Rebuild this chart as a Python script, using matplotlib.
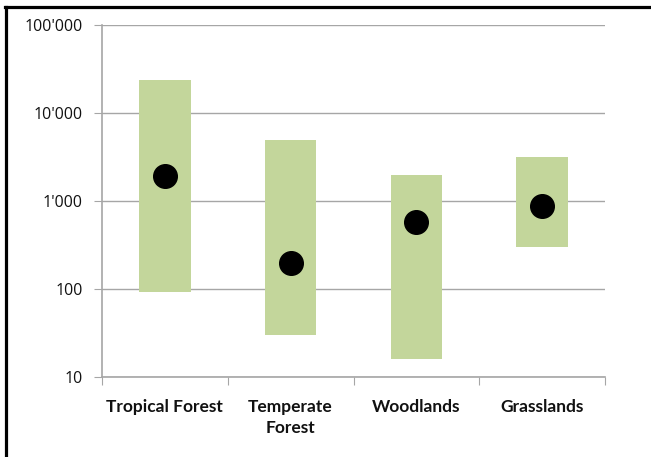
import matplotlib
matplotlib.use("Agg")
import matplotlib.pyplot as plt
from matplotlib.lines import Line2D
from matplotlib.ticker import FixedLocator, FuncFormatter, NullLocator

plt.rcParams['font.family'] = ['Open Sans', 'DejaVu Sans']

# data
categories = ["Tropical Forest", "Temperate\nForest", "Woodlands", "Grasslands"]
range_low = [92, 30, 16, 300]
range_high = [23500, 4900, 1970, 3150]
mid_value = [1900, 200, 570, 870]
y_ticks = [10, 100, 1000, 10000, 100000]

bar_color = "#C3D69B"
grid_color = "#A6A6A6"

# Format numbers like 100'000
def fmtTick(v, pos):
    return "{:,}".format(int(round(v))).replace(",", "'")

fig = plt.figure(figsize=(6.51, 4.57), dpi=100)
ax = fig.add_axes([102 / 651, 1 - 377 / 457, 503 / 651, 352 / 457])

x = list(range(len(categories)))
heights = [h - l for h, l in zip(range_high, range_low)]
ax.bar(x, heights, bottom=range_low, width=0.41, color=bar_color, zorder=2)
ax.plot(x, mid_value, "o", color="black", markersize=17, zorder=3)

ax.set_yscale("log")
ax.set_ylim(10, 100000)
ax.set_xlim(-0.5, len(categories) - 0.5)
ax.yaxis.set_major_locator(FixedLocator(y_ticks))
ax.yaxis.set_minor_locator(NullLocator())
ax.yaxis.set_major_formatter(FuncFormatter(fmtTick))
ax.grid(axis="y", color=grid_color, linewidth=1, zorder=1)

# category labels between ticks at boundaries
ax.set_xticks([i - 0.5 for i in range(len(categories) + 1)])
ax.set_xticklabels([])
ax.set_xticks(x, minor=True)
ax.set_xticklabels(categories, minor=True, fontweight="bold", fontsize=12.5,
                   family="Lato", color="#111111", linespacing=1.35)
ax.tick_params(axis="x", which="minor", length=0, pad=16)
ax.tick_params(axis="x", which="major", length=6, color=grid_color, direction="out")
ax.tick_params(axis="y", length=6, color=grid_color, labelsize=11.5, pad=8,
               labelcolor="#111111")

for s in ["top", "right"]:
    ax.spines[s].set_visible(False)
for s in ["left", "bottom"]:
    ax.spines[s].set_color(grid_color)
    ax.spines[s].set_linewidth(1.2)

# partial black frame of the original screenshot
fig.add_artist(Line2D([5 / 651, 1], [1 - 7 / 457, 1 - 7 / 457], color="black", linewidth=2.3))
fig.add_artist(Line2D([6 / 651, 6 / 651], [0, 1 - 7 / 457], color="black", linewidth=2.3))

fig.savefig("out.png", dpi=100)
